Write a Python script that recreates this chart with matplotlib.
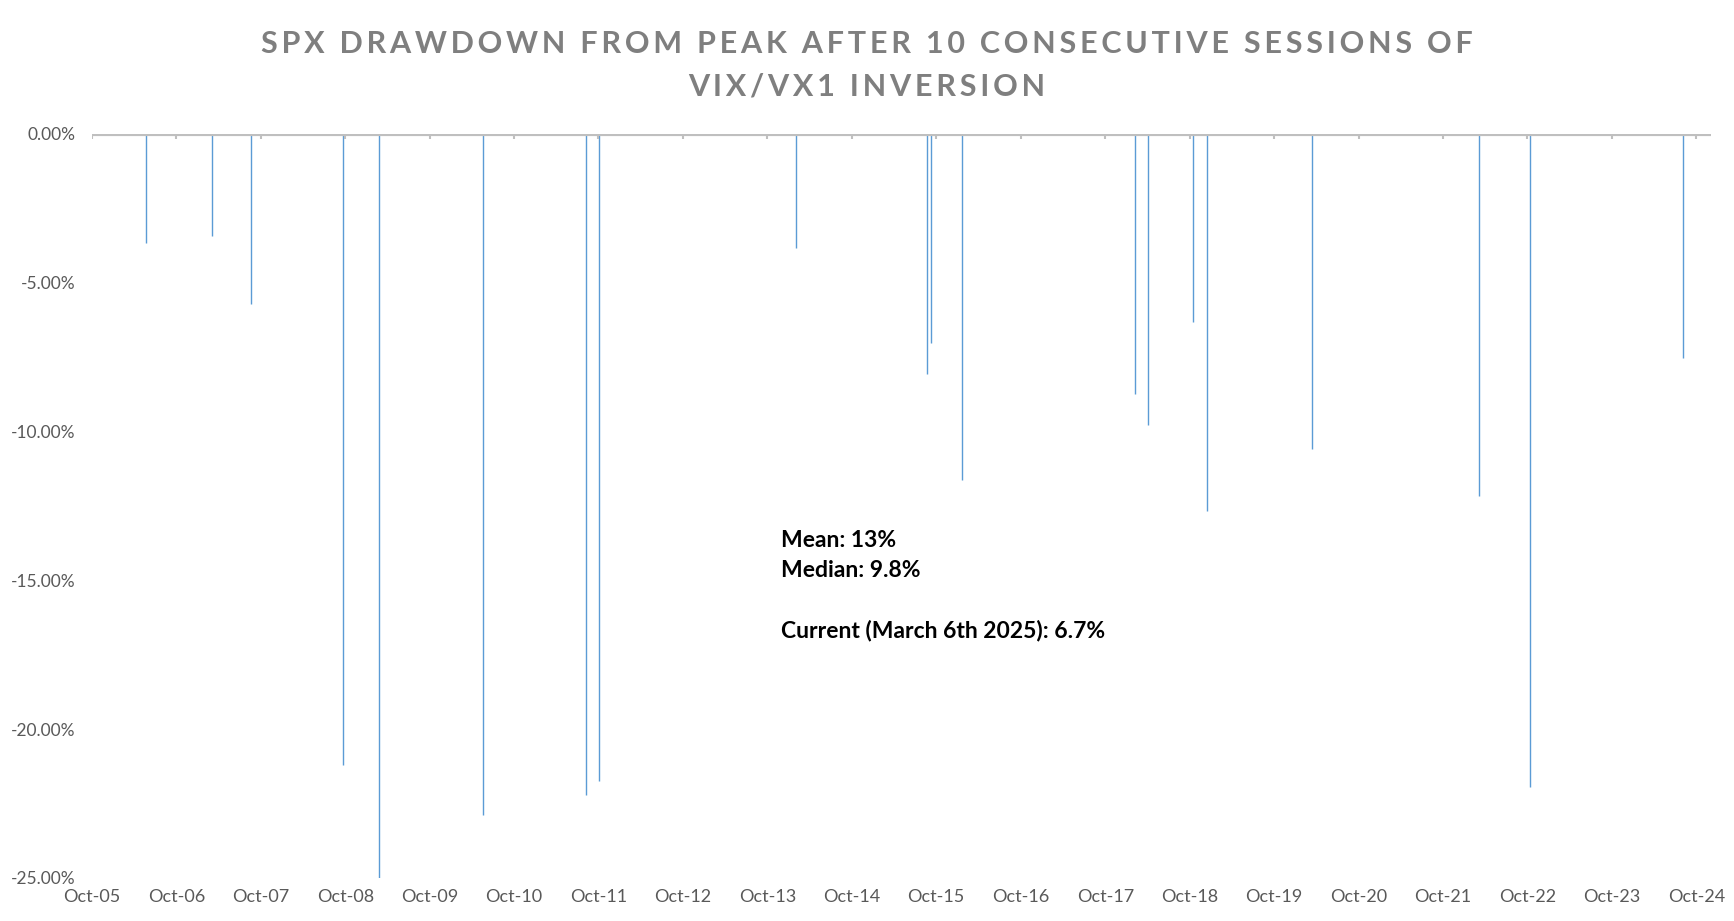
import numpy as np
import pandas as pd
import matplotlib
matplotlib.use('Agg')
import matplotlib.pyplot as plt
from matplotlib.ticker import FuncFormatter

# ── data: drawdown after each 10-session inversion ──────────
event_dates = ['2006-05-24', '2007-03-05', '2007-08-20', '2008-09-22',
               '2009-02-24', '2010-05-20', '2011-08-08', '2011-10-03',
               '2014-02-03', '2015-08-24', '2015-09-08', '2016-01-20',
               '2018-02-08', '2018-04-02', '2018-10-15', '2018-12-14',
               '2020-03-12', '2022-03-07', '2022-10-10', '2024-08-05']
drawdown_pct = [-3.69, -3.43, -5.71, -21.2, -25.0, -22.9, -22.2, -21.75,
                -3.84, -8.06, -7.05, -11.64, -8.73, -9.78, -6.34, -12.69,
                -10.6, -12.16, -21.94, -7.54]

tick_years = list(range(2005, 2025))
tick_labels = [f'Oct-{y % 100:02d}' for y in tick_years]
y_ticks = [0, -5, -10, -15, -20, -25]

title_lines = ['SPX DRAWDOWN FROM PEAK AFTER 10 CONSECUTIVE SESSIONS OF',
               'VIX/VX1 INVERSION']
stats_lines = ['Mean: 13%', 'Median: 9.8%', '', 'Current (March 6th 2025): 6.7%']

BLUE = '#5B9BD5'
GRID_GRAY = '#BFBFBF'
LABEL_GRAY = '#595959'
TITLE_GRAY = '#7F7F7F'
FONT = ['Lato', 'DejaVu Sans']


def spaced(s):
    # mimic the letter spacing of the spreadsheet title
    return '\u200a\u200a'.join(s)


dates = pd.to_datetime(event_dates)
dd = np.array(drawdown_pct) / 100.0
ticks = pd.to_datetime([f'{y}-10-01' for y in tick_years])

fig = plt.figure(figsize=(17.34, 9.21), dpi=100)
ax = fig.add_axes([0.053, 0.0467, 0.934, 0.8083])

ax.vlines(dates, 0, dd, color=BLUE, linewidth=1.0, zorder=2)

# horizontal axis drawn at zero, with small tick marks below it
ax.axhline(0, color=GRID_GRAY, linewidth=3, zorder=3)
ax.vlines(ticks, 0, -0.0018, color=GRID_GRAY, linewidth=1.5, zorder=3)

ax.set_xlim(pd.Timestamp('2005-10-01'), pd.Timestamp('2024-12-05'))
ax.set_ylim(-0.25, 0)

ax.set_xticks(ticks)
ax.set_xticklabels(tick_labels, fontfamily=FONT, fontsize=13, color=LABEL_GRAY)
ax.set_yticks([v / 100 for v in y_ticks])
ax.yaxis.set_major_formatter(FuncFormatter(lambda v, _: f'{v * 100:.2f}%'))
for lab in ax.get_yticklabels():
    lab.set_fontfamily(FONT)
    lab.set_fontsize(12.5)
    lab.set_color(LABEL_GRAY)
ax.tick_params(axis='both', length=0)
ax.tick_params(axis='y', pad=12)
ax.tick_params(axis='x', pad=8)
for s in ax.spines.values():
    s.set_visible(False)

for i, line in enumerate(title_lines):
    fig.text(0.5, 0.952 - i * 0.046, spaced(line),
             ha='center', va='center', fontsize=22, fontweight='bold',
             color=TITLE_GRAY, fontfamily=FONT)

y0 = 1 - 540 / 921
step = 30 / 921
for i, line in enumerate(stats_lines):
    if line:
        fig.text(781 / 1734, y0 - i * step, line, ha='left', va='center',
                 fontsize=16.5, fontweight='bold', color='black', fontfamily=FONT)

fig.savefig('out.png', dpi=100, facecolor='white')
